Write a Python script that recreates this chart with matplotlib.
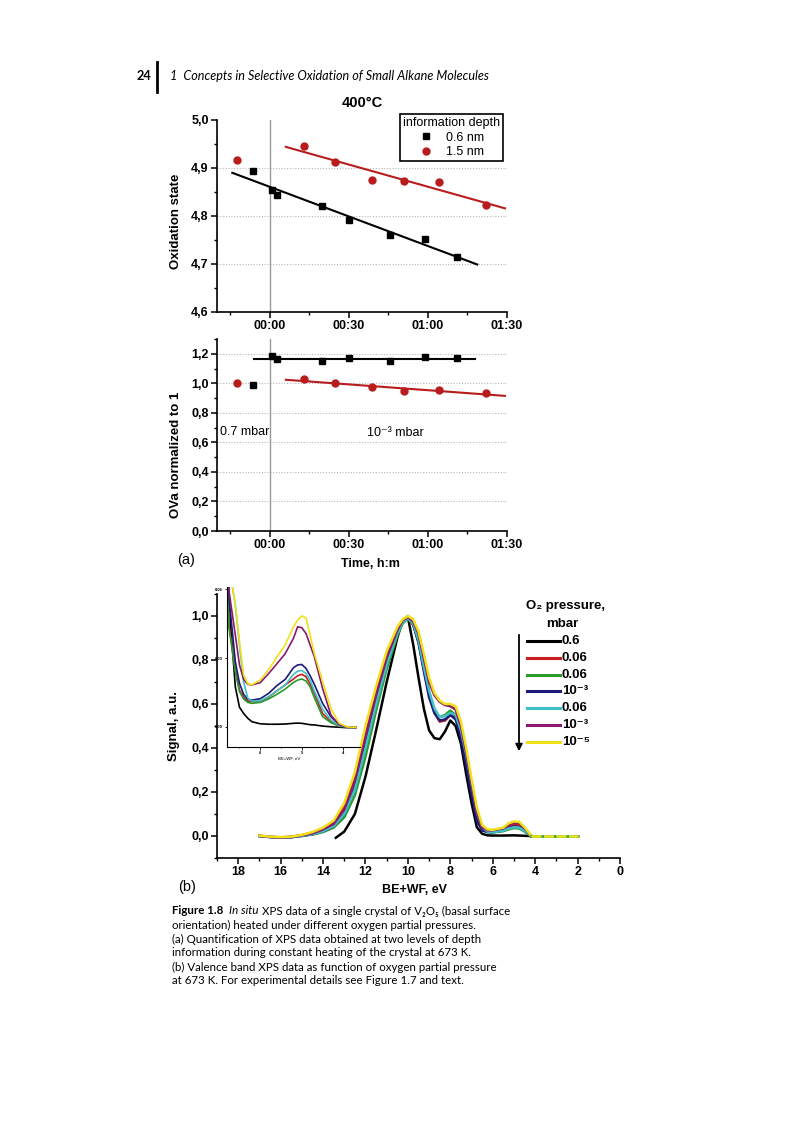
import matplotlib
matplotlib.use("Agg")
import matplotlib.pyplot as plt
from matplotlib.lines import Line2D
from matplotlib.ticker import MultipleLocator, FixedLocator, FuncFormatter

plt.rcParams["font.family"] = ["Liberation Sans", "DejaVu Sans"]
plt.rcParams["font.weight"] = "bold"
plt.rcParams["axes.labelweight"] = "bold"

# ---- panel (a): oxidation state and OVa vs time (minutes after switch) ----
t_06 = [-6.2, 0.9, 2.8, 19.9, 29.9, 45.8, 59.0, 70.9]
t_15 = [-12.3, 12.9, 24.8, 38.9, 51.0, 64.1, 81.9]
ox_06 = [4.894, 4.855, 4.843, 4.820, 4.791, 4.760, 4.753, 4.715]
ox_15 = [4.916, 4.945, 4.912, 4.874, 4.873, 4.871, 4.822]
ova_06 = [0.988, 1.182, 1.164, 1.148, 1.168, 1.153, 1.177, 1.171]
ova_15 = [1.001, 1.028, 1.003, 0.976, 0.947, 0.954, 0.933]

fit_ox_06_t, fit_ox_06 = [-14.2, 78.7], [4.890, 4.699]
fit_ox_15_t, fit_ox_15 = [6.1, 89.2], [4.944, 4.816]
fit_ova_06_t, fit_ova_06 = [-6.1, 77.8], [1.166, 1.166]
fit_ova_15_t, fit_ova_15 = [6.1, 89.2], [1.024, 0.915]

time_ticks = [0, 30, 60, 90]

# ---- panel (b): valence band spectra ----
x_main = [17.0, 16.5, 16.0, 15.5, 15.0, 14.5, 14.0, 13.5, 13.0, 12.5,
          12.0, 11.5, 11.0, 10.5, 10.25, 10.0,
          9.75, 9.5, 9.25, 9.0, 8.75, 8.5, 8.25, 8.0,
          7.75, 7.5, 7.25, 7.0, 6.75, 6.5, 6.25, 6.0,
          5.5, 5.25, 5.0, 4.75, 4.5, 4.2]
y_red = [0.0, -0.004, -0.006, -0.004, 0.004, 0.015, 0.033, 0.062, 0.13, 0.26,
         0.46, 0.65, 0.82, 0.94, 0.98, 0.995,
         0.965, 0.89, 0.77, 0.65, 0.56, 0.52, 0.525, 0.55,
         0.54, 0.47, 0.35, 0.22, 0.09, 0.035, 0.022, 0.02,
         0.028, 0.042, 0.05, 0.048, 0.03, 0.001]
y_green = [0.001, -0.004, -0.007, -0.005, 0.002, 0.006, 0.018, 0.038, 0.085, 0.185,
           0.36, 0.57, 0.76, 0.91, 0.965, 0.99,
           0.96, 0.88, 0.76, 0.65, 0.57, 0.54, 0.55, 0.57,
           0.55, 0.47, 0.35, 0.22, 0.09, 0.03, 0.018, 0.016,
           0.022, 0.03, 0.036, 0.034, 0.02, 0.0]
y_navy = [0.0, -0.005, -0.008, -0.006, 0.0, 0.008, 0.022, 0.045, 0.10, 0.22,
          0.42, 0.62, 0.80, 0.93, 0.98, 1.0,
          0.96, 0.88, 0.75, 0.63, 0.56, 0.525, 0.53, 0.55,
          0.53, 0.45, 0.32, 0.19, 0.07, 0.025, 0.018, 0.017,
          0.025, 0.036, 0.043, 0.04, 0.024, 0.001]
y_cyan = [0.0, -0.004, -0.007, -0.005, 0.001, 0.008, 0.022, 0.045, 0.10, 0.21,
          0.40, 0.60, 0.78, 0.92, 0.97, 0.99,
          0.965, 0.89, 0.77, 0.66, 0.58, 0.54, 0.545, 0.56,
          0.55, 0.48, 0.37, 0.24, 0.11, 0.04, 0.02, 0.017,
          0.024, 0.034, 0.04, 0.038, 0.022, 0.0]
y_purple = [0.001, -0.004, -0.007, -0.004, 0.003, 0.012, 0.03, 0.055, 0.12, 0.25,
            0.45, 0.64, 0.81, 0.935, 0.98, 0.995,
            0.975, 0.92, 0.81, 0.70, 0.64, 0.61, 0.595, 0.59,
            0.575, 0.50, 0.38, 0.24, 0.11, 0.04, 0.026, 0.026,
            0.035, 0.052, 0.06, 0.058, 0.035, 0.002]
y_yellow = [0.002, -0.003, -0.005, -0.003, 0.005, 0.018, 0.038, 0.07, 0.15, 0.29,
            0.50, 0.68, 0.84, 0.95, 0.985, 1.0,
            0.985, 0.93, 0.83, 0.72, 0.65, 0.615, 0.60, 0.60,
            0.59, 0.52, 0.40, 0.26, 0.13, 0.05, 0.03, 0.028,
            0.038, 0.058, 0.066, 0.064, 0.04, 0.003]
x_black = [13.4, 13.0, 12.5, 12.0, 11.5, 11.0, 10.5, 10.25, 10.0,
           9.75, 9.5, 9.25, 9.0, 8.75, 8.5, 8.25, 8.0,
           7.75, 7.5, 7.25, 7.0, 6.75, 6.5, 6.25, 6.0,
           5.5, 5.0, 4.5, 4.2]
y_black = [-0.008, 0.02, 0.10, 0.27, 0.48, 0.70, 0.90, 0.98, 0.995,
           0.87, 0.72, 0.58, 0.48, 0.445, 0.44, 0.475, 0.525,
           0.50, 0.42, 0.28, 0.15, 0.04, 0.01, 0.003, 0.002,
           0.002, 0.003, 0.001, 0.0]
x_tail, y_tail = [4.2, 2.0], [0.0, 0.0]

# inset: zoom on the 5 eV states
x_inset = [6.8, 6.75, 6.6, 6.5, 6.4, 6.3, 6.2, 6.0, 5.8, 5.6, 5.4,
           5.2, 5.1, 5.0, 4.9, 4.8, 4.7, 4.5, 4.3, 4.1, 3.9, 3.7]
in_black = [0.075, 0.053, 0.0175, 0.0086, 0.0059, 0.0038, 0.0023, 0.0014, 0.0012, 0.0012, 0.0013,
            0.0016, 0.0017, 0.0016, 0.0013, 0.001, 0.0009, 0.0004, 0.0001, -0.0001, -0.0003, -0.0003]
in_red = [0.09, 0.044, 0.0248, 0.0161, 0.0129, 0.0112, 0.011, 0.011, 0.013, 0.0157, 0.0183,
          0.0209, 0.0223, 0.0229, 0.0219, 0.0187, 0.0146, 0.0059, 0.0023, 0.0004, 0.0, -0.0001]
in_green = [0.09, 0.043, 0.024, 0.0154, 0.0122, 0.0107, 0.0103, 0.0107, 0.0122, 0.0142, 0.0165,
            0.0194, 0.0204, 0.0209, 0.02, 0.0175, 0.0128, 0.0045, 0.0019, 0.0004, 0.0, -0.0001]
in_navy = [0.1, 0.056, 0.0284, 0.019, 0.0142, 0.012, 0.0117, 0.0123, 0.0146, 0.018, 0.0207,
           0.0258, 0.027, 0.0272, 0.0255, 0.0223, 0.0186, 0.0103, 0.0045, 0.0009, 0.0, -0.0001]
in_cyan = [0.12, 0.07, 0.053, 0.0357, 0.0197, 0.0125, 0.0113, 0.0114, 0.0132, 0.0157, 0.0183,
           0.0229, 0.0243, 0.0246, 0.0233, 0.0204, 0.0157, 0.0078, 0.003, 0.0006, 0.0, -0.0001]
in_purple = [0.12, 0.059, 0.04, 0.027, 0.0207, 0.0186, 0.0183, 0.0193, 0.0232, 0.0275, 0.0319,
             0.0386, 0.0436, 0.0432, 0.0407, 0.0357, 0.0306, 0.0168, 0.0052, 0.0009, 0.0, -0.0001]
in_yellow = [0.12, 0.07, 0.053, 0.037, 0.0226, 0.0188, 0.0184, 0.0204, 0.0249, 0.0304, 0.0357,
             0.0436, 0.0465, 0.0483, 0.0475, 0.040, 0.032, 0.0197, 0.0081, 0.0016, 0.0, -0.0001]

pressure_labels = ["0.6", "0.06", "0.06", "10\u207b\u00b3", "0.06", "10\u207b\u00b3", "10\u207b\u2075"]
colors = ["#000000", "#c81e1e", "#2a9a2a", "#1c1c78", "#40c0c8", "#8b1a6e", "#f0e018"]
RED = "#b81c1c"

W, H = 800, 1129
fig = plt.figure(figsize=(W / 100, H / 100), dpi=100)


def fx(px):
    return px / W


def fy(py):
    return 1 - py / H


def box(x0, y0, x1, y1):
    # pixel box (top-left origin) -> figure fraction rect
    return [fx(x0), fy(y1), (x1 - x0) / W, (y1 - y0) / H]


def style(ax, size=9):
    for s in ["top", "right"]:
        ax.spines[s].set_visible(False)
    for s in ["left", "bottom"]:
        ax.spines[s].set_linewidth(1.2)
    ax.tick_params(which="major", direction="out", length=4, width=1.1, labelsize=size, pad=2)
    ax.tick_params(which="minor", direction="out", length=2.5, width=1)


comma = FuncFormatter(lambda v, p: f"{v:.1f}".replace(".", ","))
hm = FuncFormatter(lambda v, p: f"{int(v) // 60:02d}:{int(v) % 60:02d}")

# header
fig.text(fx(151), fy(76), "24", ha="right", va="center", fontsize=9.2, family="Lato")
fig.add_artist(Line2D([fx(157), fx(157)], [fy(62), fy(92)], color="black", lw=2))
fig.text(fx(170), fy(76), "1  Concepts in Selective Oxidation of Small Alkane Molecules",
         ha="left", va="center", fontsize=9.1, style="italic", weight="normal", family="Lato")
fig.text(fx(362), fy(103), "400\u00b0C", ha="center", va="center", fontsize=10.5)

# top: oxidation state
ax1 = fig.add_axes(box(217, 120, 507, 312))
style(ax1)
ax1.set_xlim(-20, 90)
ax1.set_ylim(4.6, 5.0)
ax1.xaxis.set_major_locator(FixedLocator(time_ticks))
ax1.xaxis.set_minor_locator(FixedLocator([-15, 15, 45, 75]))
ax1.xaxis.set_major_formatter(hm)
ax1.yaxis.set_major_locator(MultipleLocator(0.1))
ax1.yaxis.set_minor_locator(MultipleLocator(0.05))
ax1.yaxis.set_major_formatter(comma)
for v in [4.7, 4.8, 4.9]:
    ax1.axhline(v, color="#b8b8b8", lw=0.8, ls=(0, (1, 1.5)))
ax1.axvline(0, color="#9a9a9a", lw=1)
ax1.plot(fit_ox_06_t, fit_ox_06, color="black", lw=1.5)
ax1.plot(fit_ox_15_t, fit_ox_15, color=RED, lw=1.5)
h06, = ax1.plot(t_06, ox_06, "s", color="black", ms=5, ls="none", label="0.6 nm")
h15, = ax1.plot(t_15, ox_15, "o", color=RED, ms=5, ls="none", label="1.5 nm")
ax1.set_ylabel("Oxidation state", fontsize=9.5)
ax1.yaxis.set_label_coords((182 - 217) / 290, 0.47)
leg = ax1.legend(handles=[h06, h15], title="information depth", loc="upper right",
                 bbox_to_anchor=(0.986, 1.031), borderaxespad=0, frameon=True, fancybox=False,
                 edgecolor="black", framealpha=1, prop={"size": 9, "weight": "normal"},
                 title_fontproperties={"size": 9, "weight": "normal"},
                 handlelength=1.2, handletextpad=1.0, labelspacing=0.2, borderpad=0.25)
leg.get_frame().set_linewidth(1.2)

# middle: OVa normalised
ax2 = fig.add_axes(box(217, 339, 507, 531))
style(ax2)
ax2.set_xlim(-20, 90)
ax2.set_ylim(0, 1.3)
ax2.xaxis.set_major_locator(FixedLocator(time_ticks))
ax2.xaxis.set_minor_locator(FixedLocator([-15, 15, 45, 75]))
ax2.xaxis.set_major_formatter(hm)
ax2.yaxis.set_major_locator(MultipleLocator(0.2))
ax2.yaxis.set_minor_locator(MultipleLocator(0.1))
ax2.yaxis.set_major_formatter(comma)
for v in [0.2, 0.4, 0.6, 0.8, 1.0, 1.2]:
    ax2.axhline(v, color="#b8b8b8", lw=0.8, ls=(0, (1, 1.5)))
ax2.axvline(0, color="#9a9a9a", lw=1)
ax2.plot(fit_ova_06_t, fit_ova_06, color="black", lw=1.5)
ax2.plot(fit_ova_15_t, fit_ova_15, color=RED, lw=1.5)
ax2.plot(t_06, ova_06, "s", color="black", ms=5, ls="none")
ax2.plot(t_15, ova_15, "o", color=RED, ms=5, ls="none")
ax2.text(-19, 0.67, "0.7 mbar", fontsize=9, weight="normal", va="center")
ax2.text(36.8, 0.665, "10\u207b\u00b3 mbar", fontsize=9, weight="normal", va="center")
ax2.set_ylabel("OVa normalized to 1", fontsize=9.5)
ax2.yaxis.set_label_coords((182 - 217) / 290, 0.396)
ax2.set_xlabel("Time, h:m", fontsize=9)
ax2.xaxis.set_label_coords((370 - 217) / 290, -(558 - 531) / 192)
fig.text(fx(177), fy(560), "(a)", fontsize=10.5, weight="normal", va="center")

# bottom: valence band spectra
ax3 = fig.add_axes(box(217, 594, 620, 858))
style(ax3)
ax3.set_xlim(19, 0)
ax3.set_ylim(-0.1, 1.1)
ax3.xaxis.set_major_locator(MultipleLocator(2))
ax3.xaxis.set_minor_locator(MultipleLocator(1))
ax3.xaxis.set_major_formatter(FuncFormatter(lambda v, p: f"{v:.0f}"))
ax3.yaxis.set_major_locator(MultipleLocator(0.2))
ax3.yaxis.set_minor_locator(MultipleLocator(0.1))
ax3.yaxis.set_major_formatter(comma)
main_curves = [y_red, y_green, y_navy, y_cyan, y_purple, y_yellow]
ax3.plot(x_black, y_black, color=colors[0], lw=1.8)
for ys, c in zip(main_curves, colors[1:]):
    ax3.plot(x_main, ys, color=c, lw=1.8)
ax3.plot(x_tail, y_tail, color=colors[2], lw=1.8)
ax3.plot(x_tail, y_tail, color=colors[6], lw=1.8, ls=(0, (4, 1)))
ax3.set_ylabel("Signal, a.u.", fontsize=9.5)
ax3.yaxis.set_label_coords((180 - 217) / 403, 0.5)
ax3.set_xlabel("BE+WF, eV", fontsize=9)
ax3.xaxis.set_label_coords((415 - 217) / 403, -(884 - 858) / 264)
fig.text(fx(178), fy(887), "(b)", fontsize=10.5, weight="normal", va="center")

# legend for pressures with arrow
fig.text(fx(566), fy(606), "O\u2082 pressure,", ha="center", va="center", fontsize=9.5)
fig.text(fx(562), fy(624), "mbar", ha="center", va="center", fontsize=9.5)
fig.add_artist(matplotlib.patches.FancyArrowPatch(
    (fx(519), fy(632)), (fx(519), fy(754)), transform=fig.transFigure,
    arrowstyle="-|>", mutation_scale=10, lw=1.3, color="black"))
for i, (lab, c) in enumerate(zip(pressure_labels, colors)):
    yy = 641 + i * 16.8
    fig.add_artist(Line2D([fx(527), fx(560)], [fy(yy), fy(yy)], color=c, lw=2.2))
    fig.text(fx(562), fy(yy), lab, ha="left", va="center", fontsize=9.5)

# inset
ax4 = fig.add_axes(box(227, 587, 360, 747))
ax4.patch.set_alpha(0)
style(ax4, size=3)
ax4.tick_params(which="major", length=1.8, width=0.6, pad=1)
ax4.tick_params(which="minor", length=1, width=0.5)
for s in ["left", "bottom"]:
    ax4.spines[s].set_linewidth(0.8)
ax4.set_xlim(6.8, 3.6)
ax4.set_ylim(-0.0087, 0.0609)
ax4.xaxis.set_major_locator(FixedLocator([6, 5, 4]))
ax4.xaxis.set_minor_locator(MultipleLocator(0.5))
ax4.yaxis.set_major_locator(FixedLocator([0.0, 0.03, 0.06]))
ax4.yaxis.set_major_formatter(FuncFormatter(lambda v, p: f"{v:.2f}"))
inset_curves = [in_black, in_red, in_green, in_navy, in_cyan, in_purple, in_yellow]
for ys, c in zip(inset_curves, colors):
    ax4.plot(x_inset, ys, color=c, lw=1.2)
ax4.set_xlabel("BE+WF, eV", fontsize=3.2, weight="normal")
ax4.xaxis.set_label_coords(0.47, -0.06)

# caption
cap_y = [911, 925, 939, 953, 967, 981]
cap = dict(fontsize=8.3, weight="normal", va="center", family=["Lato", "DejaVu Sans"])
fig.text(fx(172), fy(cap_y[0]), "Figure 1.8", **{**cap, "weight": "bold"})
fig.text(fx(229), fy(cap_y[0]), "In situ", style="italic", **cap)
fig.text(fx(262), fy(cap_y[0]), "XPS data of a single crystal of V\u2082O\u2085 (basal surface", **cap)
cap_lines = [
    "orientation) heated under different oxygen partial pressures.",
    "(a) Quantification of XPS data obtained at two levels of depth",
    "information during constant heating of the crystal at 673 K.",
    "(b) Valence band XPS data as function of oxygen partial pressure",
    "at 673 K. For experimental details see Figure 1.7 and text.",
]
for yy, line in zip(cap_y[1:], cap_lines):
    fig.text(fx(172), fy(yy), line, **cap)

fig.savefig("out.png", dpi=100)
